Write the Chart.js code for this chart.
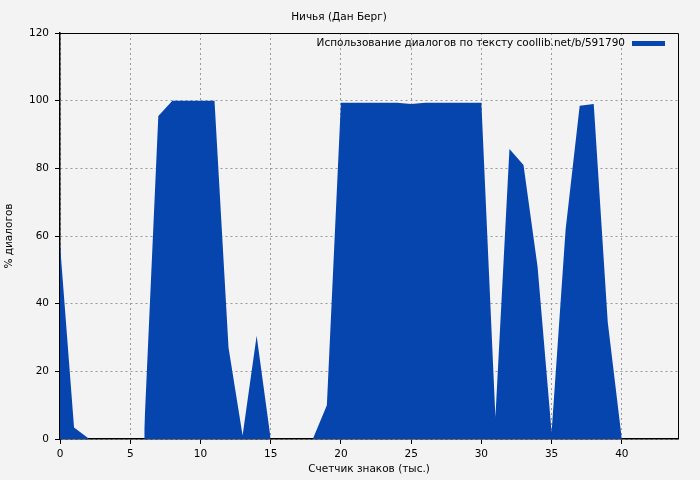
<!DOCTYPE html>
<html lang="ru">
<head>
<meta charset="UTF-8">
<title>Ничья (Дан Берг)</title>
<script src="https://cdn.jsdelivr.net/npm/chart.js"></script>
<style>
  html, body { margin: 0; padding: 0; background: #f3f3f3; }
  #wrap { width: 700px; height: 480px; }
</style>
</head>
<body>
<div id="wrap"><canvas id="chart" width="700" height="480"></canvas></div>
<script>
// тысячи знаков
const thousands = [0, 1, 2, 3, 4, 5, 6, 7, 8, 9, 10, 11, 12, 13, 14, 15, 16, 17, 18, 19, 20,
                   21, 22, 23, 24, 25, 26, 27, 28, 29, 30, 31, 32, 33, 34, 35, 36, 37, 38, 39, 40];
// % диалогов (null = нет данных)
const dialogPct = [57.5, 3.4, 0.3, null, null, null, 3, 95.5, 100, 100, 100, 100, 27, 1, 30.5, 0, null, null, 0, 10, 99.4,
                   99.4, 99.4, 99.4, 99.4, 99.0, 99.4, 99.4, 99.4, 99.4, 99.4, 6.5, 85.7, 81, 51, 2, 62, 98.5, 99, 34.5, 0];

const chartTitle = 'Ничья (Дан Берг)';
const seriesLabel = 'Использование диалогов по тексту coollib.net/b/591790';
const xTitle = 'Счетчик знаков (тыс.)';
const yTitle = '% диалогов';
const fillColor = '#0645ad';

const points = thousands.map((x, i) => ({ x: x, y: dialogPct[i] }));

const font = { family: '"DejaVu Sans", sans-serif', size: 10.5 };

const frameAndLegend = {
    id: 'frameAndLegend',
    afterDatasetsDraw(chart) {
        const { ctx, chartArea: a } = chart;
        ctx.save();
        ctx.strokeStyle = '#000';
        ctx.lineWidth = 1;
        ctx.beginPath();
        ctx.moveTo(a.left, a.top + 0.5);
        ctx.lineTo(a.right + 0.5, a.top + 0.5);
        ctx.lineTo(a.right + 0.5, a.bottom);
        ctx.stroke();

        // легенда в правом верхнем углу
        ctx.font = '10.5px "DejaVu Sans", sans-serif';
        ctx.fillStyle = '#000';
        ctx.textAlign = 'right';
        ctx.textBaseline = 'middle';
        ctx.fillText(chart.data.datasets[0].label, a.right - 53, a.top + 10);
        ctx.fillStyle = fillColor;
        ctx.fillRect(a.right - 46, a.top + 8, 33, 5);
        ctx.restore();
    }
};

new Chart(document.getElementById('chart'), {
    type: 'line',
    data: {
        datasets: [{
            label: seriesLabel,
            data: points,
            backgroundColor: fillColor,
            borderColor: fillColor,
            borderWidth: 0,
            pointRadius: 0,
            fill: 'origin',
            tension: 0,
            spanGaps: false
        }]
    },
    options: {
        responsive: false,
        animation: false,
        layout: { padding: { top: 0, right: 22, bottom: 0, left: 0 } },
        plugins: {
            legend: { display: false },
            tooltip: { enabled: false },
            title: {
                display: true,
                text: chartTitle,
                color: '#000',
                font: { family: font.family, size: 10.5, weight: 'normal' },
                padding: { top: 10.5, bottom: 9.9 }
            }
        },
        scales: {
            x: {
                type: 'linear',
                min: 0,
                max: 44,
                afterFit(scale) { scale.height = 41; },
                ticks: { stepSize: 5, includeBounds: false, color: '#000', font: font, padding: 4, maxRotation: 0 },
                grid: { color: '#999', tickColor: '#000', tickBorderDash: [], tickLength: 5, drawTicks: true },
                border: { color: '#000', width: 1.5, dash: [2, 3] },
                title: { display: true, text: xTitle, color: '#000', font: font, padding: { top: 0, bottom: 4 } }
            },
            y: {
                min: 0,
                max: 120,
                afterFit(scale) { scale.width = 60; },
                ticks: { stepSize: 20, color: '#000', font: font, padding: 6 },
                grid: { color: '#999', tickColor: '#000', tickBorderDash: [], tickLength: 5, drawTicks: true },
                border: { color: '#000', width: 1.5, dash: [2, 3] },
                title: { display: true, text: yTitle, color: '#000', font: font, padding: { top: 3, bottom: 0 } }
            }
        }
    },
    plugins: [frameAndLegend]
});
</script>
</body>
</html>
